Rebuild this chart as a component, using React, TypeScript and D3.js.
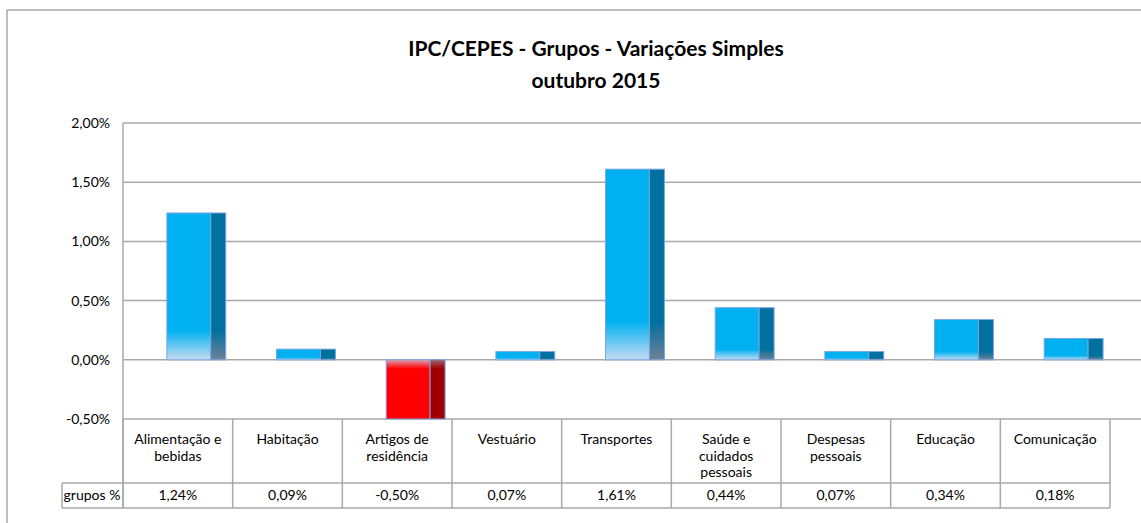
import React from "react";
import * as d3 from "d3";

const title1 = "IPC/CEPES - Grupos - Variações Simples";
const title2 = "outubro 2015";
const categories = [
  ["Alimentação e", "bebidas"],
  ["Habitação"],
  ["Artigos de", "residência"],
  ["Vestuário"],
  ["Transportes"],
  ["Saúde e", "cuidados", "pessoais"],
  ["Despesas", "pessoais"],
  ["Educação"],
  ["Comunicação"],
];
const values = [1.24, 0.09, -0.5, 0.07, 1.61, 0.44, 0.07, 0.34, 0.18];
const yTicks = [-0.5, 0, 0.5, 1.0, 1.5, 2.0];
const rowLabel = "grupos %";

const FONT = "Lato, 'Noto Sans', sans-serif";
const fmt = (v: number) => v.toFixed(2).replace(".", ",") + "%";

export default function App() {
  const W = 1141, H = 523;
  const left = 123, right = 1110, top = 123, bottom = 419;
  const x = d3.scaleBand<number>().domain(d3.range(categories.length)).range([left, right]).padding(0);
  const y = d3.scaleLinear().domain([-0.5, 2.0]).range([bottom, top]);
  const bw = x.bandwidth();
  const frontW = bw * 0.4;
  const sideW = bw * 0.137;
  const grid = "#A9A9A9";
  const rowSep = 483, tableBottom = 508;

  return (
    <svg width={W} height={H} style={{ position: "absolute", left: 0, top: 0, background: "#fff" }} fontFamily={FONT}>
      <defs>
        <linearGradient id="posFront" x1="0" y1="0" x2="0" y2="1">
          <stop offset="0" stopColor="#00B0F0" />
          <stop offset="0.8" stopColor="#00B0F0" />
          <stop offset="1" stopColor="#C5DCF2" />
        </linearGradient>
        <linearGradient id="posSide" x1="0" y1="0" x2="0" y2="1">
          <stop offset="0" stopColor="#00709E" />
          <stop offset="0.8" stopColor="#00709E" />
          <stop offset="1" stopColor="#6F8196" />
        </linearGradient>
        <linearGradient id="negFront" x1="0" y1="0" x2="0" y2="1">
          <stop offset="0" stopColor="#E0A0B0" />
          <stop offset="0.15" stopColor="#FF0000" />
          <stop offset="1" stopColor="#FF0000" />
        </linearGradient>
        <linearGradient id="negSide" x1="0" y1="0" x2="0" y2="1">
          <stop offset="0" stopColor="#A06070" />
          <stop offset="0.15" stopColor="#A00000" />
          <stop offset="1" stopColor="#A00000" />
        </linearGradient>
      </defs>

      {/* outer frame */}
      <line x1={7} y1={10} x2={W} y2={10} stroke={grid} strokeWidth={1.5} />
      <line x1={7} y1={10} x2={7} y2={H} stroke={grid} strokeWidth={1.5} />

      {/* title */}
      <text x={596} y={56} textAnchor="middle" fontSize={21} fontWeight="bold" fill="#000">{title1}</text>
      <text x={596} y={88} textAnchor="middle" fontSize={21} fontWeight="bold" fill="#000">{title2}</text>

      {/* gridlines */}
      {yTicks.map((t) => (
        <g key={t}>
          <line x1={left} x2={W} y1={y(t)} y2={y(t)} stroke={grid} strokeWidth={1.5} />
          <text x={110} y={y(t)} dy="0.35em" textAnchor="end" fontSize={14} fill="#000">{fmt(t)}</text>
        </g>
      ))}
      <line x1={left} x2={left} y1={top} y2={tableBottom} stroke={grid} strokeWidth={1.5} />

      {/* bars */}
      {values.map((v, i) => {
        const x0 = (x(i) as number) + frontW * 1.0;
        const y0 = Math.min(y(v), y(0));
        const h = Math.abs(y(v) - y(0));
        const pos = v >= 0;
        return (
          <g key={i}>
            <rect x={x0} y={y0} width={frontW} height={h} fill={`url(#${pos ? "posFront" : "negFront"})`} stroke="#7AA6E2" strokeWidth={1} />
            <rect x={x0 + frontW} y={y0} width={sideW} height={h} fill={`url(#${pos ? "posSide" : "negSide"})`} stroke="#7AA6E2" strokeWidth={1} />
          </g>
        );
      })}

      {/* table */}
      {d3.range(categories.length + 1).map((i) => {
        const xx = i < categories.length ? (x(i) as number) : right;
        return <line key={i} x1={xx} x2={xx} y1={bottom} y2={tableBottom} stroke={grid} strokeWidth={1.5} />;
      })}
      <line x1={62} x2={right} y1={rowSep} y2={rowSep} stroke={grid} strokeWidth={1.5} />
      <line x1={62} x2={right} y1={tableBottom} y2={tableBottom} stroke={grid} strokeWidth={1.5} />
      <line x1={62} x2={62} y1={rowSep} y2={tableBottom} stroke={grid} strokeWidth={1.5} />
      <text x={92} y={500} textAnchor="middle" fontSize={14} fill="#000">{rowLabel}</text>

      {categories.map((lines, i) => {
        const cx = (x(i) as number) + bw / 2;
        return (
          <g key={i}>
            {lines.map((ln, j) => (
              <text key={j} x={cx} y={444 + j * 16.5} textAnchor="middle" fontSize={14} fill="#000">{ln}</text>
            ))}
            <text x={cx} y={500} textAnchor="middle" fontSize={14} fill="#000">{fmt(values[i])}</text>
          </g>
        );
      })}
    </svg>
  );
}
